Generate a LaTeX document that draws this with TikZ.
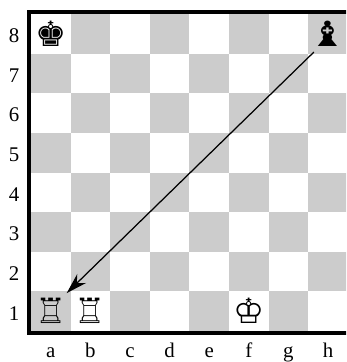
\documentclass[tikz,border=0pt]{standalone}
\usepackage{fontspec}
\usetikzlibrary{arrows.meta}
\setmainfont{Liberation Serif}
\newfontfamily\chessfont{DejaVu Sans}
\tikzset{
    piece/.style={font=\chessfont\fontsize{25}{25}\selectfont, inner sep=0pt, minimum width=0.7cm, minimum height=0.9cm},
    coord/.style={font=\fontsize{15}{17}\selectfont, inner sep=0pt},
    dark/.style={fill=black!20, draw=none}
}
\begin{document}
\begin{tikzpicture}
        \useasboundingbox (-0.783,-0.783) rectangle (7.955,8.359);
        \clip (-0.783,-0.783) rectangle (7.955,8.359);

        % Casillas
        \foreach \x in {0,...,7}
            \foreach \y in {0,...,7} {
                \pgfmathparse{int(mod(\x+\y,2))}
                \ifnum\pgfmathresult=0
                    \fill[dark] (\x,\y) rectangle ++(1,1);
                \fi
            }

        % Borde
        \draw[line width=2.9pt] (8.2,-0.05) -- (-0.05,-0.05) -- (-0.05,8.05) -- (8.2,8.05);

        % Etiquetas
        \foreach \y in {1,...,8}
            \node[coord] (rank\y) at (-0.43,\y-0.55) {\y};
        \foreach \f [count=\x] in {a,b,c,d,e,f,g,h}
            \node[coord, anchor=base] (file\f) at (\x-0.5,-0.66) {\f};

        % Piezas
        \node[piece] (Ka8) at (0.5,7.5) {♚};
        \node[piece] (Bh8) at (7.5,7.5) {\makebox[0pt]{\scalebox{1.18}[1]{♝}}};
        \node[piece] (Ra1) at (0.5,0.5) {♖};
        \node[piece] (Rb1) at (1.5,0.5) {♖};
        \node[piece] (Kf1) at (5.5,0.5) {♔};

        % Flecha
        \draw[-{Stealth[length=15pt,width=9pt]}, line width=0.9pt] (Bh8.south west) -- (Ra1.north east);
    \end{tikzpicture}
\end{document}
